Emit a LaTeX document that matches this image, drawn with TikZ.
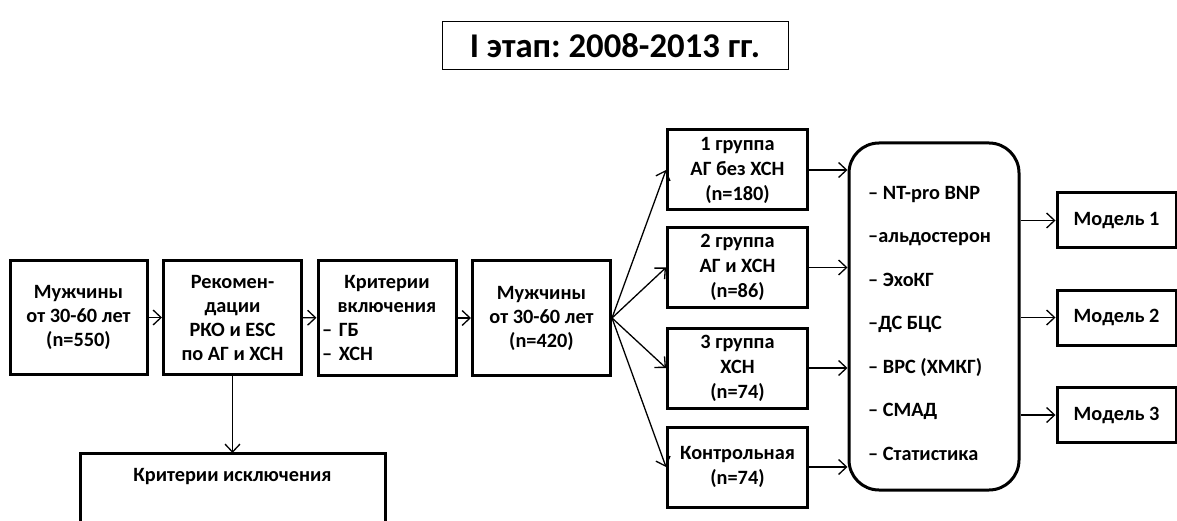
\documentclass[tikz,border=0pt]{standalone}
\usepackage{fontspec}
\setmainfont{Carlito}
\frenchspacing
\usetikzlibrary{arrows.meta}

\tikzset{
  box/.style={draw, line width=3pt, minimum width=138pt, minimum height=114pt,
    align=center, font=\fontsize{20.3}{24}\selectfont\bfseries, inner sep=2pt},
  grp/.style={box, minimum width=140pt, minimum height=80pt, font=\fontsize{20.3}{25}\selectfont\bfseries},
  model/.style={box, minimum width=119pt, minimum height=55pt},
  link/.style={line width=1.3pt, -{Straight Barb[length=8pt,width=15pt,line width=1.3pt]}}
}

\begin{document}
\begin{tikzpicture}[x=1pt,y=-1pt]
\useasboundingbox (0,0) rectangle (1177,521);
\clip (0,0) rectangle (1177,521);
% title
\node[draw, line width=1pt, minimum width=346pt, minimum height=48pt,
  font=\fontsize{34.7}{40}\selectfont\bfseries] (title) at (615,46) {I этап: 2008-2013 гг.};
% main chain
\node[box, minimum width=137pt] (men550) at (78.5,317.5) {Мужчины\\от 30-60 лет\\(n=550)};
\node[box] (recom) at (232.5,317.5) {Рекомен-\\дации\\РКО и ESC\\по АГ и ХСН};
\node[box, text width=130pt, align=left] (incl) at (387,318)
  {{\centering Критерии\\включения\par}– ГБ\\– ХСН};
\node[box] (men420) at (541.5,318) {Мужчины\\от 30-60 лет\\(n=420)};
% exclusion box (runs off the page)
\coordinate (exclTop) at (232.5,453);
\draw[line width=3pt] (80,453) rectangle (385,560);
\node[font=\fontsize{20.3}{24}\selectfont\bfseries] (excl) at (232.5,477) {Критерии исключения};
% groups
\node[grp] (g1) at (737.5,170) {1 группа\\АГ без ХСН\\(n=180)};
\node[grp] (g2) at (737.5,267.5) {2 группа\\АГ и ХСН\\(n=86)};
\node[grp] (g3) at (737.5,368) {3 группа\\ХСН\\(n=74)};
\node[grp] (g4) at (737.5,467) {Контрольная\\(n=74)};
% tests
\node[draw, line width=3pt, rounded corners=30pt, minimum width=170pt, minimum height=347pt] (tests) at (934,316.5) {};
\node[anchor=west, align=left, inner sep=0pt, font=\fontsize{20.3}{43.5}\selectfont\bfseries] (testlist) at (868,323)
  {– NT-pro BNP\\–альдостерон\\– ЭхоКГ\\–ДС БЦС\\– ВРС (ХМКГ)\\– СМАД\\– Статистика};
% models
\node[model] (m1) at (1116.5,220.5) {Модель 1};
\node[model] (m2) at (1116.5,317.5) {Модель 2};
\node[model] (m3) at (1116.5,415) {Модель 3};
% connectors
\draw[link] (men550) -- (recom);
\draw[link] (recom) -- (incl);
\draw[link] (incl) -- (men420);
\draw[link] (recom.south) -- (exclTop);
\foreach \g in {g1,g2,g3,g4}{
  \draw[link] (men420.east) -- (\g.west);
  \draw[link] (\g.east) -- (tests.west |- \g.east);
}
\foreach \m in {m1,m2,m3}
  \draw[link] (tests.east |- \m.west) -- (\m.west);
\end{tikzpicture}
\end{document}
